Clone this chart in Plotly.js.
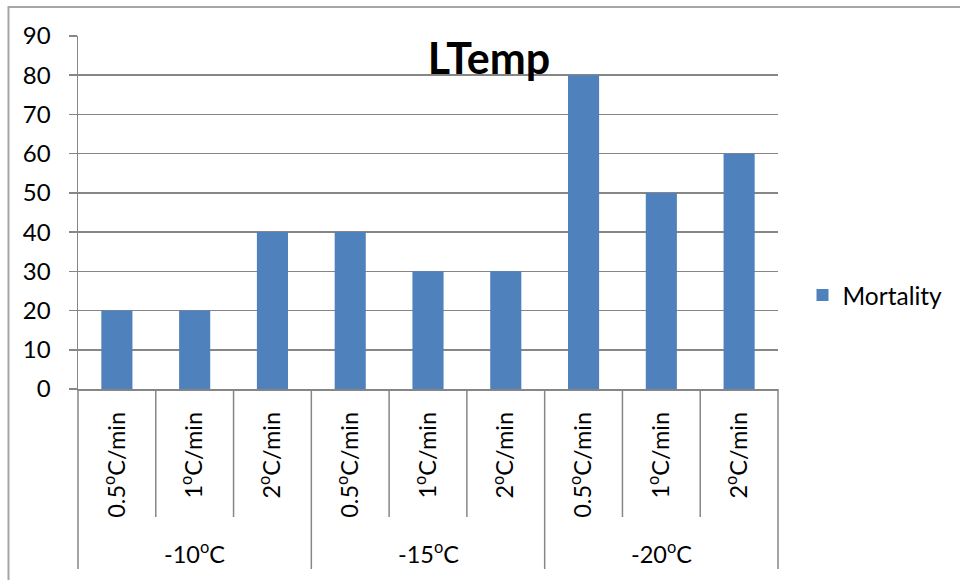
<!DOCTYPE html>
<html><head><meta charset="utf-8">
<script src="https://cdn.plot.ly/plotly-3.0.1.min.js"></script>
<style>html,body{margin:0;padding:0;background:#fff}#chart{width:960px;height:580px}</style>
</head><body><div id="chart"></div>
<script>
// ---- data ----
const groups = ["-10<sup>o</sup>C", "-15<sup>o</sup>C", "-20<sup>o</sup>C"];
const rates = ["0.5<sup>o</sup>C/min", "1<sup>o</sup>C/min", "2<sup>o</sup>C/min"];
const mortality = [20, 20, 40, 40, 30, 30, 80, 50, 60];
const seriesName = "Mortality";
const chartTitle = "LTemp";
const yTicks = [0, 10, 20, 30, 40, 50, 60, 70, 80, 90];

// ---- build ----
const keys = groups.flatMap(g => rates.map(r => g + "|" + r));
const labels = groups.flatMap(() => rates);
const nCat = keys.length;
const per = rates.length;
const gray = "#868686";
const FONT = "Lato, 'Open Sans', sans-serif";

const shapes = [];
// outer chart-area border (top/left visible)
shapes.push({type: "rect", xref: "paper", yref: "paper", x0: -0.0993, x1: 3, y0: -3, y1: 1.0822,
  line: {color: "#a6a6a6", width: 2}, fillcolor: "rgba(0,0,0,0)"});
// group dividers (incl. left & right edges)
for (let k = 0; k <= groups.length; k++) {
  const xp = (k * per) / nCat;
  shapes.push({type: "line", xref: "paper", yref: "paper", x0: xp, x1: xp, y0: 0, y1: -0.51,
    line: {color: gray, width: 1.5}});
}
// sub-category dividers
for (let g = 0; g < groups.length; g++) {
  for (let j = 1; j < per; j++) {
    const xp = (g * per + j) / nCat;
    shapes.push({type: "line", xref: "paper", yref: "paper", x0: xp, x1: xp, y0: 0, y1: -0.3626,
      line: {color: gray, width: 1.5}});
  }
}
const annotations = groups.map((g, i) => ({
  xref: "x", yref: "paper", x: keys[i * per + Math.floor(per / 2)], y: -0.4618,
  text: g, showarrow: false, xanchor: "center", yanchor: "middle",
  font: {family: FONT, size: 23.5, color: "#000"}
}));

const trace = {
  type: "bar", x: keys, y: mortality, name: seriesName,
  marker: {color: "#4F81BD"}, hoverinfo: "none", showlegend: true
};

const layout = {
  width: 960, height: 580,
  margin: {l: 78, r: 182, t: 36, b: 191, pad: 0},
  paper_bgcolor: "#fff", plot_bgcolor: "#fff",
  font: {family: FONT, color: "#000"},
  title: {text: chartTitle, font: {family: FONT, size: 43, weight: 700, color: "#000"},
    xref: "paper", x: 0.587, xanchor: "center", yref: "container", y: 0.899, yanchor: "middle"},
  bargap: 0.6,
  showlegend: true,
  legend: {x: 1.035, xanchor: "left", y: 0.266, yanchor: "middle", bgcolor: "rgba(0,0,0,0)",
    font: {family: FONT, size: 24.5, color: "#000"}},
  xaxis: {type: "category", range: [-0.5, nCat - 0.5], tickvals: keys, ticktext: labels,
    tickangle: -90, ticks: "", showline: true, linecolor: gray, linewidth: 1.5,
    showgrid: false, zeroline: false, automargin: false, ticklabelstandoff: 12,
    tickfont: {family: FONT, size: 23.5, color: "#000"}},
  yaxis: {range: [0, 90], tickvals: yTicks, showgrid: true, gridcolor: gray, gridwidth: 1.5,
    showline: true, linecolor: gray, linewidth: 1.5, ticks: "outside", ticklen: 8,
    tickcolor: gray, tickwidth: 1.5, zeroline: false, automargin: false, ticklabelstandoff: 13,
    tickfont: {family: FONT, size: 24, color: "#000"}},
  shapes: shapes,
  annotations: annotations
};

Plotly.newPlot("chart", [trace], layout, {staticPlot: true, displayModeBar: false});
</script>
</body></html>
